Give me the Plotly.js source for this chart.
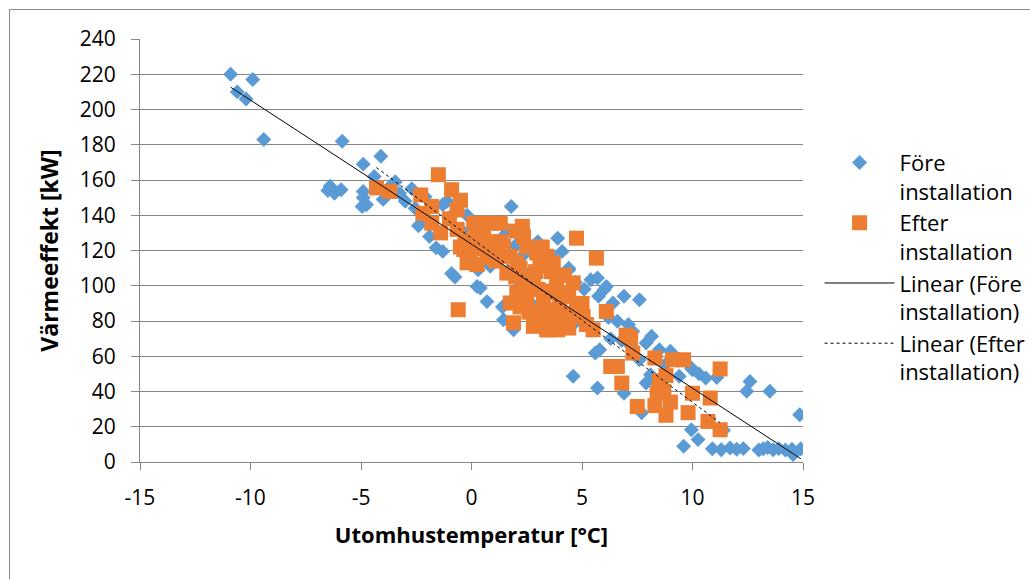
<!DOCTYPE html>
<html>
<head>
<meta charset="utf-8">
<script src="https://cdn.plot.ly/plotly-3.0.1.min.js"></script>
<style>
  html, body { margin: 0; padding: 0; background: #fff; overflow: hidden; }
  #chart { width: 1030px; height: 579px; position: absolute; left: 0; top: 0; }
  #frame { position: absolute; left: 9px; top: 9px; width: 1200px; height: 900px;
           border: 1px solid #8a8a8a; pointer-events: none; }
</style>
</head>
<body>
<div id="chart"></div>
<div id="frame"></div>
<script>
// Före installation (blue diamonds)
const foreX = [-10.9,-10.6,-10.2,-9.9,-9.4,-6.5,-6.4,-6.2,-5.9,-5.85,-4.9,-4.9,-4.9,-4.95,-4.75,-4.4,-4.1,-4.0,-3.6,-3.45,
  -3.25,-2.7,-2.1,-2.55,-2.4,-1.6,-1.3,-1.1,-0.9,-0.75,-0.8,-0.2,0.25,0.4,0.7,1.4,1.45,1.9,1.8,1.6,
  1.35,2.0,3.0,4.1,4.4,4.4,3.7,0.3,0.85,-0.2,5.4,5.7,6.0,6.1,5.75,6.4,6.9,7.6,6.6,6.2,
  7.1,7.3,6.8,8.15,7.9,5.8,5.6,9.0,8.5,4.6,5.7,6.9,7.9,10.0,10.6,9.4,9.95,12.6,12.45,13.5,
  14.85,9.95,10.25,9.6,7.7,11.4,10.9,11.3,11.7,12.0,12.3,13.0,13.2,13.4,13.65,13.9,14.2,14.5,14.9,14.55,
  8.1,8.4,8.75,4.7,5.1,4.9,3.4,2.6,2.2,3.0,3.5,2.4,1.0,0.5,-0.4,-1.9,-3.0,-2.1,9.3,10.3,
  11.1,7.6,7.2,6.3,3.9,-1.3,2.7,4.6];
const foreY = [220,210,206,217,183,154,156.5,152.5,154.5,182,169,153.5,150,145,146,162,173.5,149,157.5,159,
  152.5,155,150.5,144,134,121.5,119.5,148,107,105,141,140,99.6,98.7,91,88,80.7,75,145,131.8,
  127,123,125,119.5,110,109,116,109,111,113,103.4,104.4,97.8,99.6,94,90.2,94,92,79.8,82,
  78,74,69,71.3,67.5,63.7,61.8,62.8,63.7,48.6,42,39,44.8,52.4,47.7,48.6,53.3,45.7,40.1,40.1,
  26.8,18.3,12.7,8.9,28,18,7.5,7,8,7.2,7.6,6.8,7.5,8.2,7,7.6,6.8,7.2,7.5,4.2,
  49.5,45,55,102,98,86,113,107,100,88,96,118,120,128,131,128,148,137,58,50,
  48,58,66,70,127,146,90,78];

// Efter installation (orange squares)
const efterX = [-4.3,-3.7,-1.5,-2.3,-0.9,-0.5,-1.8,-2.2,-1.8,-1.4,-0.65,-0.65,-0.35,0.1,-0.2,0.25,-0.5,-0.05,0.25,0.55,
  0.55,1.3,0.9,2.3,2.35,4.75,5.65,1.45,1.75,2.05,2.95,3.4,3.1,1.6,2.35,2.8,3.85,4.6,2.05,2.5,
  1.75,3.25,3.4,4.0,4.75,5.05,1.9,2.8,3.4,-0.6,6.1,4.0,5.5,7.2,7.3,6.3,6.6,6.8,8.3,9.1,
  8.4,10.0,7.5,11.25,10.8,10.7,11.25,8.3,8.8,8.7,9.8,8.5,8.8,9.6,9.0,7.0,3.5,3.0,4.3,2.6,
  3.8,4.3,3.0,3.6,4.2,2.2,1.0,0.8,-1.0,5.0,5.2,3.7,3.2,2.0,1.1,-0.3,0.4,4.5,3.6,
  2.6,3.6,4.4,2.2,3.0,3.8,4.4,2.0,2.9,1.2,0.7,3.4,3.9,1.3,2.5];
const efterY = [155.5,153.5,163,151.5,154.5,148.5,145,141,135.5,130,143,132,120.5,135.5,113,128,122,118.5,112,130,
  135.5,135.5,135.5,133.7,128,127,115.7,122.3,116.7,113,118.6,116.7,111,107.2,103.4,103.4,103.4,101.6,96,92,
  90.2,92,86.4,88.3,88.3,82.6,79,77,79,86.4,85.4,77,75,70.4,61.8,54.2,54.2,44.8,59,58,
  39,39,31.5,52.8,36.3,23,18.3,32,26.5,40,28,46,49,58,34,72,75,80,80,85,
  96,94,98,108,106,110,118,125,138,90,78,113,122,131,114,126,121,84,84,
  98,97,96,88,84,80,76,105,108,118,116,75,75,125,122];

// Excel linear trendlines: [intercept, slope]
const foreTrend = [123.6, -8.17];
const efterTrend = [127.0, -9.31];

const seriesNames = ["Före<br>installation", "Efter<br>installation",
                     "Linear (Före<br>installation)", "Linear (Efter<br>installation)"];
const xTicks = [-15,-10,-5,0,5,10,15];
const yTicks = [0,20,40,60,80,100,120,140,160,180,200,220,240];
const xTitle = "Utomhustemperatur [°C]";
const yTitle = "Värmeeffekt [kW]";

// trendline spans the x-range of its series, like Excel
function trendLine(xs, coef) {
  const x0 = Math.min(...xs), x1 = Math.max(...xs);
  return {x: [x0, x1], y: [coef[0] + coef[1]*x0, coef[0] + coef[1]*x1]};
}
const fitFore = trendLine(foreX, foreTrend);
const fitEfter = trendLine(efterX, efterTrend);

const FONT = "'Open Sans', 'Noto Sans', sans-serif";

const traces = [
  {x: foreX, y: foreY, name: seriesNames[0], type: 'scatter', mode: 'markers',
   marker: {symbol: 'diamond', size: 11.5, color: '#5B9BD5', line: {width: 0}}},
  {x: efterX, y: efterY, name: seriesNames[1], type: 'scatter', mode: 'markers',
   marker: {symbol: 'square', size: 15, color: '#ED7D31', line: {width: 0}}},
  {x: fitFore.x, y: fitFore.y, name: seriesNames[2], type: 'scatter', mode: 'lines',
   line: {color: '#000', width: 1}},
  {x: fitEfter.x, y: fitEfter.y, name: seriesNames[3], type: 'scatter', mode: 'lines',
   line: {color: '#000', width: 1, dash: '3px,3px'}}
];

const layout = {
  width: 1030, height: 579,
  margin: {l: 140, r: 227, t: 39, b: 117, pad: 0, autoexpand: false},
  paper_bgcolor: '#fff', plot_bgcolor: '#fff',
  font: {family: FONT, color: '#000', size: 21},
  showlegend: true,
  legend: {x: 1.025, xanchor: 'left', y: 0.757, yanchor: 'top', itemwidth: 70,
           valign: 'top', font: {family: FONT, size: 22, color: '#000'},
           bgcolor: 'rgba(0,0,0,0)', borderwidth: 0, traceorder: 'normal'},
  xaxis: {range: [-15, 15], tickvals: xTicks, ticktext: xTicks.map(String), showgrid: false,
          zeroline: false, showline: true, linecolor: '#868686', linewidth: 1,
          ticks: 'outside', ticklen: 7, tickcolor: '#868686', ticklabelstandoff: 10,
          tickfont: {family: FONT, size: 21, color: '#000'},
          title: {text: xTitle, font: {family: FONT, size: 22, color: '#000', weight: 'bold'}, standoff: 17}},
  yaxis: {range: [0, 240], tickvals: yTicks, ticktext: yTicks.map(String), showgrid: true,
          gridcolor: '#868686', gridwidth: 1, zeroline: false, showline: true,
          linecolor: '#868686', linewidth: 1, ticks: 'outside', ticklen: 8, tickcolor: '#868686',
          ticklabelstandoff: 11, tickfont: {family: FONT, size: 21, color: '#000'},
          title: {text: yTitle, font: {family: FONT, size: 23, color: '#000', weight: 'bold'}, standoff: 14}}
};

Plotly.newPlot('chart', traces, layout, {staticPlot: true, displayModeBar: false});
</script>
</body>
</html>
